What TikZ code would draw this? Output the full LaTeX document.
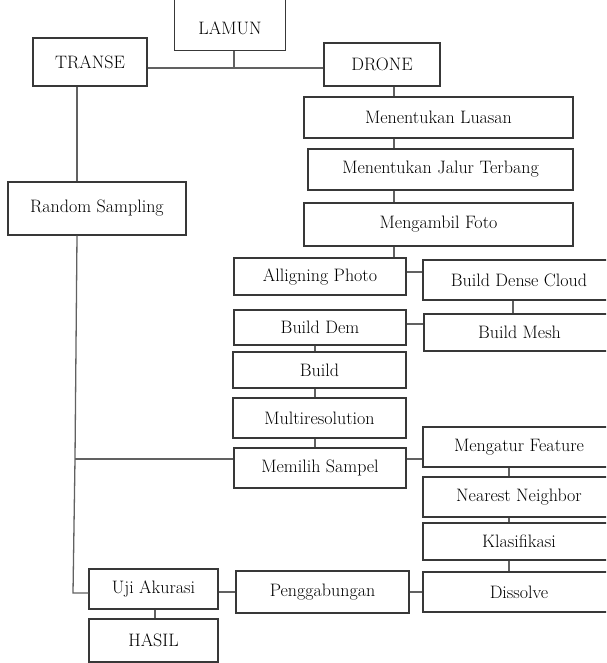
\documentclass[tikz,border=0pt]{standalone}
\begin{document}
\begin{tikzpicture}[x=1pt,y=-1pt,
  bx/.style={draw=black!78, line width=1.3pt, inner sep=0pt, font=\fontsize{18}{21}\selectfont, text=black},
  ln/.style={draw=black!62, line width=1.3pt}]
\useasboundingbox (0,0) rectangle (606,663);
\clip (0,0) rectangle (606,663);
% nodes
\node[bx, draw=none, minimum width=110pt, minimum height=43pt] (lamun) at (230,28.5) {LAMUN};
\draw[bx] ([yshift=8pt]lamun.north west) -- (lamun.south west) -- (lamun.south east) -- ([yshift=8pt]lamun.north east);
\node[bx, minimum width=114pt, minimum height=48pt] (transe) at (90,62) {TRANSE};
\node[bx, minimum width=116pt, minimum height=43pt] (drone) at (382,64.5) {DRONE};
\node[bx, minimum width=269pt, minimum height=41pt] (luasan) at (438.5,117.5) {Menentukan Luasan};
\node[bx, minimum width=265pt, minimum height=41pt] (jalur) at (440.5,169.5) {Menentukan Jalur Terbang};
\node[bx, minimum width=269pt, minimum height=43pt] (foto) at (438.5,224.5) {Mengambil Foto};
\node[bx, minimum width=178pt, minimum height=53pt] (rs) at (97,208.5) {Random Sampling};
\node[bx, minimum width=172pt, minimum height=37pt] (align) at (320,276.5) {Alligning Photo};
\node[bx, minimum width=192pt, minimum height=40pt] (dense) at (519,280) {Build Dense Cloud};
\node[bx, minimum width=191pt, minimum height=37pt] (mesh) at (519.5,332.5) {Build Mesh};
\node[bx, minimum width=172pt, minimum height=35pt] (dem) at (320,327.5) {Build Dem};
\node[bx, minimum width=173pt, minimum height=36pt] (build) at (319.5,370) {Build};
\node[bx, minimum width=173pt, minimum height=40pt] (multi) at (319.5,418) {Multiresolution};
\node[bx, minimum width=172pt, minimum height=40pt] (memilih) at (320,468) {Memilih Sampel};
\node[bx, minimum width=192pt, minimum height=40pt] (feature) at (519,447) {Mengatur Feature};
\node[bx, minimum width=192pt, minimum height=40pt] (nearest) at (519,497) {Nearest Neighbor};
\node[bx, minimum width=192pt, minimum height=37pt] (klas) at (519,541.5) {Klasifikasi};
\node[bx, minimum width=192pt, minimum height=40pt] (dissolve) at (519,592) {Dissolve};
\node[bx, minimum width=173pt, minimum height=42pt] (gabung) at (322.5,592) {Penggabungan};
\node[bx, minimum width=129pt, minimum height=40pt] (uji) at (153.5,589) {Uji Akurasi};
\node[bx, minimum width=129pt, minimum height=43pt] (hasil) at (153.5,640.5) {HASIL};
% helper coordinates
\coordinate (j1) at (234,68);
\coordinate (xa) at (394,0);
\coordinate (ya) at (0,272);
\coordinate (xb) at (513,0);
\coordinate (yb) at (0,324);
\coordinate (xc) at (315,0);
\coordinate (yc) at (0,459);
\coordinate (xd) at (509,0);
\coordinate (yd) at (0,592);
\coordinate (xe) at (155,0);
\coordinate (xt) at (77,0);
\coordinate (tb) at (75,459);
\coordinate (tc) at (73,593);
% connectors
\draw[ln] (transe.east |- j1) -- (drone.west |- j1);
\draw[ln] (j1 |- lamun.south) -- (j1);
\draw[ln] (drone.south -| xa) -- (luasan.north -| xa);
\draw[ln] (luasan.south -| xa) -- (jalur.north -| xa);
\draw[ln] (jalur.south -| xa) -- (foto.north -| xa);
\draw[ln] (foto.south -| xa) -- (align.north -| xa);
\draw[ln] (align.east |- ya) -- (dense.west |- ya);
\draw[ln] (dense.south -| xb) -- (mesh.north -| xb);
\draw[ln] (dem.east |- yb) -- (mesh.west |- yb);
\draw[ln] (dem.south -| xc) -- (build.north -| xc);
\draw[ln] (build.south -| xc) -- (multi.north -| xc);
\draw[ln] (multi.south -| xc) -- (memilih.north -| xc);
\draw[ln] (memilih.east |- yc) -- (feature.west |- yc);
\draw[ln] (feature.south -| xd) -- (nearest.north -| xd);
\draw[ln] (nearest.south -| xd) -- (klas.north -| xd);
\draw[ln] (klas.south -| xd) -- (dissolve.north -| xd);
\draw[ln] (dissolve.west |- yd) -- (gabung.east |- yd);
\draw[ln] (gabung.west |- yd) -- (uji.east |- yd);
\draw[ln] (uji.south -| xe) -- (hasil.north -| xe);
\draw[ln] (transe.south -| xt) -- (rs.north -| xt);
\draw[ln] (rs.south -| xt) -- (tb) -- (tc) -- (uji.west |- tc);
\draw[ln] (tb) -- (memilih.west |- tb);
\end{tikzpicture}
\end{document}
